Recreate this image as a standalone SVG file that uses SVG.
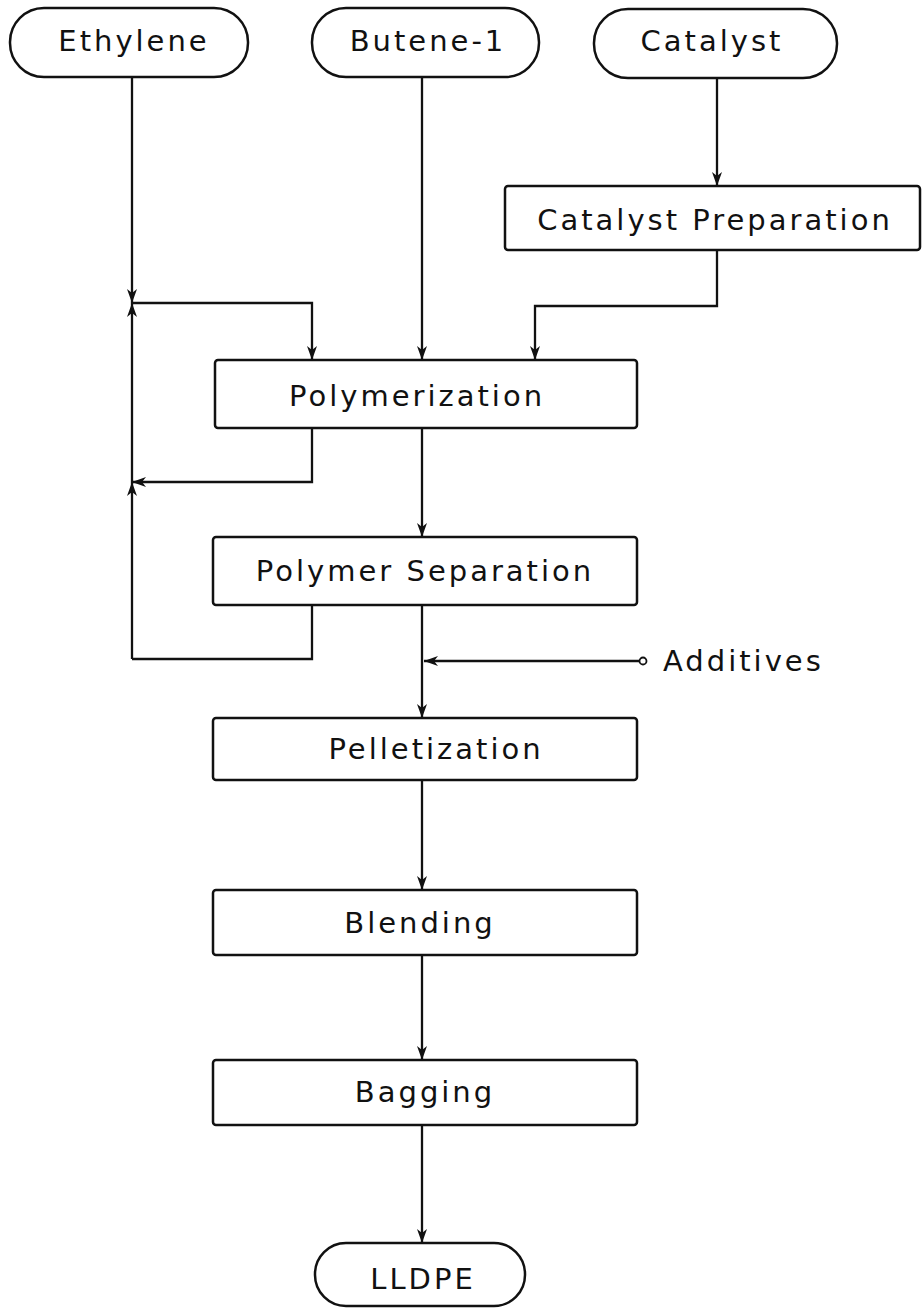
<svg xmlns="http://www.w3.org/2000/svg" width="924" height="1310" viewBox="0 0 924 1310">
<style>
.n{fill:#fff;stroke:#111;stroke-width:2.5}
.t{font-family:"DejaVu Sans",sans-serif;font-size:29px;letter-spacing:3px;fill:#111;text-anchor:middle}
.c{fill:none;stroke:#111;stroke-width:2.3}
</style>
<defs>
<marker id="a" viewBox="0 0 14 10" refX="14" refY="5" markerWidth="14" markerHeight="10" markerUnits="userSpaceOnUse" orient="auto">
<path d="M0,0 L14,5 L0,10 L4,5 Z" fill="#111"/>
</marker>
</defs>
<rect width="924" height="1310" fill="#fff"/>
<g id="connectors">
<path class="c" d="M132,77 V303" marker-end="url(#a)"/>
<path class="c" d="M132,659 V482" marker-end="url(#a)"/>
<path class="c" d="M132,482 V303" marker-end="url(#a)"/>
<path class="c" d="M132,303 H312 V360" marker-end="url(#a)"/>
<path class="c" d="M312,428 V482 H132" marker-end="url(#a)"/>
<path class="c" d="M312,605 V659 H132"/>
<path class="c" d="M422,77 V360" marker-end="url(#a)"/>
<path class="c" d="M717,78 V186" marker-end="url(#a)"/>
<path class="c" d="M717,250 V306 H535 V360" marker-end="url(#a)"/>
<path class="c" d="M422,428 V537" marker-end="url(#a)"/>
<path class="c" d="M422,605 V718" marker-end="url(#a)"/>
<path class="c" d="M639.5,661 H424" marker-end="url(#a)"/>
<circle cx="643" cy="661" r="3.5" fill="#fff" stroke="#111" stroke-width="1.8"/>
<path class="c" d="M422,780 V890" marker-end="url(#a)"/>
<path class="c" d="M422,955 V1060" marker-end="url(#a)"/>
<path class="c" d="M422,1125 V1243" marker-end="url(#a)"/>
</g>
<g id="ethylene"><rect class="n" x="10" y="8" width="238" height="69" rx="34"/><text class="t" x="134" y="51">Ethylene</text></g>
<g id="butene"><rect class="n" x="312" y="8" width="227" height="69" rx="34"/><text class="t" x="428" y="51">Butene-1</text></g>
<g id="catalyst"><rect class="n" x="594" y="9" width="243" height="69" rx="34"/><text class="t" x="712" y="51">Catalyst</text></g>
<g id="catprep"><rect class="n" x="505" y="186" width="415" height="64" rx="3"/><text class="t" x="715" y="230">Catalyst Preparation</text></g>
<g id="polymerization"><rect class="n" x="215" y="360" width="422" height="68" rx="3"/><text class="t" x="417" y="406">Polymerization</text></g>
<g id="separation"><rect class="n" x="213" y="537" width="424" height="68" rx="3"/><text class="t" x="425" y="581">Polymer Separation</text></g>
<g id="additives"><text class="t" x="663" y="671" style="text-anchor:start">Additives</text></g>
<g id="pelletization"><rect class="n" x="213" y="718" width="424" height="62" rx="3"/><text class="t" x="436" y="759">Pelletization</text></g>
<g id="blending"><rect class="n" x="213" y="890" width="424" height="65" rx="3"/><text class="t" x="420" y="933">Blending</text></g>
<g id="bagging"><rect class="n" x="213" y="1060" width="424" height="65" rx="3"/><text class="t" x="425" y="1102">Bagging</text></g>
<g id="lldpe"><rect class="n" x="315" y="1243" width="210" height="63" rx="31"/><text class="t" x="423" y="1289">LLDPE</text></g>
</svg>
